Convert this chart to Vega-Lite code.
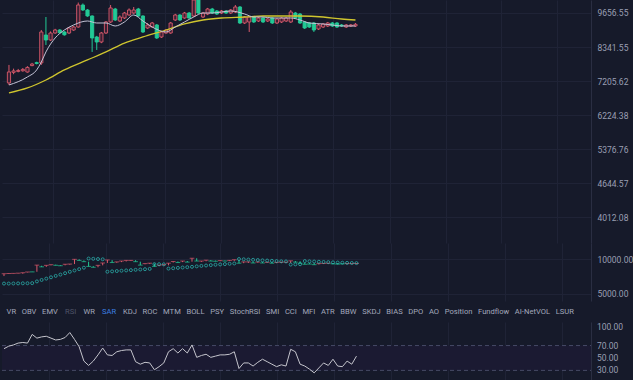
{
  "$schema": "https://vega.github.io/schema/vega-lite/v6.json",
  "background": "#161a2a",
  "padding": 0,
  "spacing": 0,
  "bounds": "flush",
  "config": {
    "view": {"stroke": null},
    "font": "Roboto",
    "axis": {"labelColor": "#9a9fb3", "labelFont": "Roboto", "labelFontSize": 8.5, "labelOverlap": false, "gridColor": "#1f2336", "domainColor": "#2a2e42", "tickColor": "#2a2e42", "title": null}
  },
  "datasets": {
    "candles": [
      {"i":0,"open":7146,"high":7722,"low":7084,"close":7492,"rsi":65,"sar":6150},
      {"i":1,"open":7480,"high":7600,"low":7420,"close":7525,"rsi":69,"sar":6150},
      {"i":2,"open":7510,"high":7590,"low":7480,"close":7540,"rsi":71,"sar":6160},
      {"i":3,"open":7530,"high":7620,"low":7500,"close":7575,"rsi":74,"sar":6170},
      {"i":4,"open":7490,"high":7680,"low":7470,"close":7640,"rsi":75,"sar":6180},
      {"i":5,"open":7700,"high":7790,"low":7680,"close":7750,"rsi":74,"sar":6190},
      {"i":6,"open":7800,"high":7830,"low":7740,"close":7770,"rsi":88,"sar":6200},
      {"i":7,"open":7790,"high":8975,"low":7722,"close":8898,"rsi":82,"sar":6420},
      {"i":8,"open":8784,"high":9492,"low":8414,"close":8597,"rsi":84,"sar":6610},
      {"i":9,"open":8597,"high":8920,"low":8560,"close":8860,"rsi":85,"sar":6790},
      {"i":10,"open":8860,"high":9020,"low":8830,"close":8975,"rsi":82,"sar":6970},
      {"i":11,"open":8975,"high":9010,"low":8840,"close":8870,"rsi":79,"sar":7170},
      {"i":12,"open":8898,"high":8930,"low":8760,"close":8790,"rsi":80,"sar":7360},
      {"i":13,"open":8860,"high":9090,"low":8820,"close":9053,"rsi":83,"sar":7570},
      {"i":14,"open":8975,"high":9130,"low":8940,"close":9092,"rsi":91,"sar":7780},
      {"i":15,"open":9092,"high":10100,"low":9060,"close":9995,"rsi":80,"sar":7990},
      {"i":16,"open":9995,"high":10060,"low":9740,"close":9782,"rsi":68,"sar":8210},
      {"i":17,"open":9782,"high":9820,"low":9500,"close":9533,"rsi":45,"sar":8450},
      {"i":18,"open":9533,"high":9560,"low":8166,"close":8672,"rsi":38,"sar":10150},
      {"i":19,"open":8709,"high":8750,"low":8236,"close":8523,"rsi":45,"sar":10100},
      {"i":20,"open":8523,"high":8900,"low":8480,"close":8860,"rsi":55,"sar":10050},
      {"i":21,"open":8860,"high":9330,"low":8820,"close":9290,"rsi":66,"sar":10000},
      {"i":22,"open":9290,"high":9995,"low":9250,"close":9867,"rsi":55,"sar":7800},
      {"i":23,"open":9824,"high":9870,"low":9330,"close":9370,"rsi":54,"sar":7850},
      {"i":24,"open":9330,"high":9560,"low":9290,"close":9492,"rsi":60,"sar":7900},
      {"i":25,"open":9451,"high":9700,"low":9410,"close":9656,"rsi":62,"sar":7950},
      {"i":26,"open":9574,"high":9850,"low":9540,"close":9782,"rsi":63,"sar":8000},
      {"i":27,"open":9656,"high":9909,"low":9620,"close":9782,"rsi":63,"sar":8050},
      {"i":28,"open":9824,"high":9870,"low":9500,"close":9533,"rsi":44,"sar":8100},
      {"i":29,"open":9533,"high":9560,"low":8860,"close":8898,"rsi":40,"sar":8150},
      {"i":30,"open":9053,"high":9250,"low":9020,"close":9171,"rsi":43,"sar":8200},
      {"i":31,"open":9092,"high":9290,"low":9060,"close":9250,"rsi":42,"sar":8250},
      {"i":32,"open":9171,"high":9210,"low":8634,"close":8672,"rsi":31,"sar":9080},
      {"i":33,"open":8709,"high":8940,"low":8670,"close":8898,"rsi":36,"sar":9060},
      {"i":34,"open":8860,"high":9010,"low":8830,"close":8975,"rsi":42,"sar":9040},
      {"i":35,"open":8860,"high":9290,"low":8830,"close":9250,"rsi":60,"sar":8300},
      {"i":36,"open":9370,"high":9620,"low":9330,"close":9574,"rsi":65,"sar":8360},
      {"i":37,"open":9574,"high":9610,"low":9330,"close":9370,"rsi":58,"sar":8420},
      {"i":38,"open":9451,"high":9700,"low":9420,"close":9656,"rsi":65,"sar":8480},
      {"i":39,"open":9656,"high":9700,"low":9420,"close":9451,"rsi":58,"sar":8540},
      {"i":40,"open":9533,"high":10300,"low":9500,"close":10212,"rsi":71,"sar":8600},
      {"i":41,"open":10212,"high":10300,"low":9620,"close":9656,"rsi":51,"sar":8680},
      {"i":42,"open":9492,"high":9700,"low":9450,"close":9656,"rsi":54,"sar":8760},
      {"i":43,"open":9615,"high":9870,"low":9570,"close":9824,"rsi":56,"sar":8830},
      {"i":44,"open":9824,"high":9870,"low":9615,"close":9656,"rsi":51,"sar":8900},
      {"i":45,"open":9740,"high":9780,"low":9574,"close":9615,"rsi":53,"sar":8960},
      {"i":46,"open":9656,"high":9782,"low":9615,"close":9740,"rsi":55,"sar":9020},
      {"i":47,"open":9740,"high":9782,"low":9615,"close":9656,"rsi":55,"sar":9080},
      {"i":48,"open":9656,"high":9824,"low":9615,"close":9782,"rsi":56,"sar":9140},
      {"i":49,"open":9698,"high":9995,"low":9656,"close":9909,"rsi":60,"sar":9200},
      {"i":50,"open":9909,"high":9952,"low":9210,"close":9250,"rsi":33,"sar":10050},
      {"i":51,"open":9250,"high":9533,"low":9210,"close":9492,"rsi":42,"sar":10000},
      {"i":52,"open":9290,"high":9533,"low":8898,"close":9492,"rsi":42,"sar":9950},
      {"i":53,"open":9492,"high":9533,"low":9250,"close":9290,"rsi":37,"sar":9900},
      {"i":54,"open":9330,"high":9492,"low":9290,"close":9451,"rsi":43,"sar":9850},
      {"i":55,"open":9451,"high":9492,"low":9250,"close":9290,"rsi":48,"sar":9800},
      {"i":56,"open":9330,"high":9451,"low":9290,"close":9410,"rsi":44,"sar":9750},
      {"i":57,"open":9451,"high":9492,"low":9210,"close":9250,"rsi":40,"sar":9700},
      {"i":58,"open":9250,"high":9451,"low":9210,"close":9410,"rsi":36,"sar":9650},
      {"i":59,"open":9290,"high":9492,"low":9250,"close":9451,"rsi":39,"sar":9600},
      {"i":60,"open":9330,"high":9492,"low":9290,"close":9451,"rsi":37,"sar":9580},
      {"i":61,"open":9290,"high":9782,"low":9250,"close":9698,"rsi":64,"sar":9000},
      {"i":62,"open":9656,"high":9700,"low":9410,"close":9451,"rsi":60,"sar":9030},
      {"i":63,"open":9615,"high":9656,"low":9210,"close":9250,"rsi":40,"sar":9060},
      {"i":64,"open":9290,"high":9330,"low":9014,"close":9053,"rsi":37,"sar":9650},
      {"i":65,"open":9250,"high":9290,"low":9053,"close":9092,"rsi":32,"sar":9600},
      {"i":66,"open":9250,"high":9290,"low":8900,"close":8975,"rsi":26,"sar":9560},
      {"i":67,"open":9014,"high":9210,"low":8975,"close":9171,"rsi":34,"sar":9520},
      {"i":68,"open":9092,"high":9250,"low":9053,"close":9210,"rsi":42,"sar":9480},
      {"i":69,"open":9131,"high":9290,"low":9092,"close":9250,"rsi":38,"sar":9440},
      {"i":70,"open":9250,"high":9290,"low":9092,"close":9131,"rsi":48,"sar":9400},
      {"i":71,"open":9250,"high":9290,"low":9053,"close":9092,"rsi":37,"sar":9370},
      {"i":72,"open":9171,"high":9210,"low":9092,"close":9131,"rsi":36,"sar":9340},
      {"i":73,"open":9092,"high":9210,"low":9053,"close":9171,"rsi":45,"sar":9310},
      {"i":74,"open":9131,"high":9210,"low":9092,"close":9171,"rsi":40,"sar":9290},
      {"i":75,"open":9131,"high":9250,"low":9092,"close":9196.94,"rsi":53,"sar":9270}
    ],
    "maw": [
      {"i":0,"ma":7084},{"i":4,"ma":7333},{"i":6,"ma":7557},{"i":7,"ma":7820},{"i":8,"ma":8166},
      {"i":10,"ma":8672},{"i":12,"ma":8975},{"i":14,"ma":9171},{"i":17,"ma":9330},{"i":19,"ma":9250},
      {"i":21,"ma":9250},{"i":23,"ma":9131},{"i":25,"ma":9290},{"i":27,"ma":9574},{"i":29,"ma":9330},
      {"i":31,"ma":9092},{"i":34,"ma":8898},{"i":36,"ma":9092},{"i":38,"ma":9290},{"i":40,"ma":9492},
      {"i":42,"ma":9656},{"i":44,"ma":9656},{"i":46,"ma":9698},{"i":48,"ma":9740},{"i":51,"ma":9615},
      {"i":53,"ma":9492},{"i":55,"ma":9492},{"i":57,"ma":9451},{"i":59,"ma":9451},{"i":61,"ma":9451},
      {"i":63,"ma":9370},{"i":65,"ma":9250},{"i":68,"ma":9210},{"i":70,"ma":9171},{"i":72,"ma":9131},
      {"i":75,"ma":9131}
    ],
    "may": [
      {"i":0,"ma":6844},{"i":4,"ma":6993},{"i":8,"ma":7238},{"i":12,"ma":7557},{"i":17,"ma":7890},
      {"i":21,"ma":8166},{"i":25,"ma":8485},{"i":29,"ma":8709},{"i":34,"ma":8975},{"i":38,"ma":9210},
      {"i":42,"ma":9370},{"i":46,"ma":9451},{"i":51,"ma":9492},{"i":55,"ma":9533},{"i":59,"ma":9533},
      {"i":63,"ma":9533},{"i":68,"ma":9492},{"i":72,"ma":9410},{"i":75,"ma":9370}
    ],
    "last": [{"label": "- 9196.94"}],
    "levels": [{"level": 70}, {"level": 30}],
    "band": [{"lo": 30, "hi": 70}],
    "rsiticks": [{"v": 100}, {"v": 70}, {"v": 50}, {"v": 30}]
  },
  "vconcat": [
    {
      "width": 589,
      "height": 243,
      "encoding": {
        "x": {"field": "i", "type": "quantitative", "scale": {"domain": [-0.4255, 124.9], "nice": false, "zero": false},
              "axis": {"values": [9.6, 21.7, 33.8, 46.0, 58.1, 70.2, 82.4, 94.5, 106.6, 118.7], "labels": false, "ticks": false, "domain": false, "grid": true}}
      },
      "layer": [
        {
          "data": {"name": "candles"},
          "mark": {"type": "rule", "clip": true, "strokeWidth": 1},
          "encoding": {
            "y": {"field": "low", "type": "quantitative", "scale": {"type": "log", "domain": [3588, 10212], "nice": false},
                  "axis": {"orient": "right", "values": [9656.55, 8341.55, 7205.62, 6224.38, 5376.76, 4644.57, 4012.08], "format": ".2f", "grid": true, "ticks": false, "labelPadding": 6, "domain": true, "labelOverlap": false}},
            "y2": {"field": "high"},
            "color": {"condition": {"test": "datum.close >= datum.open", "value": "#d9596b"}, "value": "#22c996"}
          }
        },
        {
          "data": {"name": "candles"},
          "mark": {"type": "bar", "clip": true, "width": 3.2, "strokeWidth": 0.9},
          "encoding": {
            "y": {"field": "open", "type": "quantitative"},
            "y2": {"field": "close"},
            "fill": {"condition": {"test": "datum.close >= datum.open", "value": "#3a2034"}, "value": "#22c996"},
            "stroke": {"condition": {"test": "datum.close >= datum.open", "value": "#d9596b"}, "value": "#22c996"}
          }
        },
        {
          "data": {"name": "may"},
          "mark": {"type": "line", "color": "#cfc52e", "strokeWidth": 1.3, "interpolate": "monotone", "clip": true},
          "encoding": {"y": {"field": "ma", "type": "quantitative"}}
        },
        {
          "data": {"name": "maw"},
          "mark": {"type": "line", "color": "#c3c3d6", "strokeWidth": 1, "interpolate": "monotone", "clip": true},
          "encoding": {"y": {"field": "ma", "type": "quantitative"}}
        },
        {
          "data": {"name": "last"},
          "mark": {"type": "rule", "color": "#2a2e42", "strokeWidth": 1},
          "encoding": {"x": {"datum": -0.4255}, "x2": {"datum": 135.7}, "y": {"datum": 3600}}
        },
        {
          "data": {"name": "last"},
          "mark": {"type": "rect", "color": "#d9534f"},
          "encoding": {"x": {"datum": 125.11}, "x2": {"datum": 134.89}, "y": {"datum": 8943}, "y2": {"datum": 9458}}
        },
        {
          "data": {"name": "last"},
          "mark": {"type": "text", "align": "left", "baseline": "middle", "color": "#ffffff", "fontSize": 8.5, "font": "Roboto"},
          "encoding": {"x": {"datum": 125.3}, "y": {"datum": 9196.94}, "text": {"field": "label"}}
        },
        {
          "data": {"name": "last"},
          "mark": {"type": "rect", "color": "#353b52", "cornerRadius": 1},
          "encoding": {"x": {"datum": 134.5}, "x2": {"datum": 135.8}, "y": {"datum": 4606}, "y2": {"datum": 4956}}
        }
      ]
    },
    {
      "width": 589,
      "height": 58,
      "data": {"name": "candles"},
      "encoding": {
        "x": {"field": "i", "type": "quantitative", "scale": {"domain": [-0.4255, 124.9], "nice": false, "zero": false},
              "axis": {"values": [9.6, 21.7, 33.8, 46.0, 58.1, 70.2, 82.4, 94.5, 106.6, 118.7], "labels": false, "ticks": false, "domain": false, "grid": true}}
      },
      "layer": [
        {
          "mark": {"type": "rule", "strokeWidth": 1},
          "encoding": {
            "y": {"field": "open", "type": "quantitative", "scale": {"type": "log", "domain": [4336, 13862], "nice": false},
                  "axis": {"orient": "right", "values": [10000, 5000], "format": ".2f", "grid": true, "ticks": false, "labelPadding": 6, "domain": true, "labelOverlap": false}},
            "y2": {"field": "close"},
            "color": {"condition": {"test": "datum.close >= datum.open", "value": "#d9596b"}, "value": "#22c996"}
          }
        },
        {
          "mark": {"type": "tick", "orient": "horizontal", "size": 4.7, "thickness": 1},
          "encoding": {
            "y": {"field": "close", "type": "quantitative"},
            "color": {"condition": {"test": "datum.close >= datum.open", "value": "#d9596b"}, "value": "#22c996"}
          }
        },
        {
          "mark": {"type": "point", "shape": "circle", "filled": false, "size": 9, "strokeWidth": 1, "color": "#2ec7c0"},
          "encoding": {"y": {"field": "sar", "type": "quantitative"}}
        }
      ]
    },
    {
      "width": 589,
      "height": 21,
      "data": {"name": "last"},
      "layer": [
        {
          "mark": {"type": "text", "align": "left", "baseline": "middle", "fontSize": 7.6, "font": "Roboto", "color": "#a3a8bb"},
          "encoding": {"x": {"datum": 0.55, "type": "quantitative", "scale": {"domain": [-0.4255, 124.9], "nice": false, "zero": false}, "axis": null}, "text": {"value": "VR\u00a0\u00a0\u00a0OBV\u00a0\u00a0\u00a0EMV"}}
        },
        {
          "mark": {"type": "text", "align": "left", "baseline": "middle", "fontSize": 7.6, "font": "Roboto", "color": "#4f5468"},
          "encoding": {"x": {"datum": 13.0, "type": "quantitative"}, "text": {"value": "RSI"}}
        },
        {
          "mark": {"type": "text", "align": "left", "baseline": "middle", "fontSize": 7.6, "font": "Roboto", "color": "#a3a8bb"},
          "encoding": {"x": {"datum": 16.9, "type": "quantitative"}, "text": {"value": "WR"}}
        },
        {
          "mark": {"type": "text", "align": "left", "baseline": "middle", "fontSize": 7.6, "font": "Roboto", "color": "#3b7ee0"},
          "encoding": {"x": {"datum": 20.85, "type": "quantitative"}, "text": {"value": "SAR"}}
        },
        {
          "mark": {"type": "text", "align": "left", "baseline": "middle", "fontSize": 7.6, "font": "Roboto", "color": "#a3a8bb"},
          "encoding": {"x": {"datum": 25.32, "type": "quantitative"}, "text": {"value": "KDJ\u00a0\u00a0\u00a0ROC\u00a0\u00a0\u00a0MTM\u00a0\u00a0\u00a0BOLL\u00a0\u00a0\u00a0PSY\u00a0\u00a0\u00a0StochRSI\u00a0\u00a0\u00a0SMI\u00a0\u00a0\u00a0CCI\u00a0\u00a0\u00a0MFI\u00a0\u00a0\u00a0ATR\u00a0\u00a0\u00a0BBW\u00a0\u00a0\u00a0SKDJ\u00a0\u00a0\u00a0BIAS\u00a0\u00a0\u00a0DPO\u00a0\u00a0\u00a0AO\u00a0\u00a0\u00a0Position\u00a0\u00a0\u00a0Fundflow\u00a0\u00a0\u00a0AI-NetVOL\u00a0\u00a0\u00a0LSUR"}}
        }
      ]
    },
    {
      "width": 589,
      "height": 58,
      "layer": [
        {
          "data": {"name": "band"},
          "mark": {"type": "rect", "color": "#1b1a32"},
          "encoding": {
            "x": {"datum": -0.4255, "type": "quantitative", "scale": {"domain": [-0.4255, 124.9], "nice": false, "zero": false},
                  "axis": {"values": [9.6, 21.7, 33.8, 46.0, 58.1, 70.2, 82.4, 94.5, 106.6, 118.7], "labels": false, "ticks": false, "domain": false, "grid": true}},
            "x2": {"datum": 124.9},
            "y": {"field": "lo", "type": "quantitative", "scale": {"domain": [14.5, 108], "nice": false, "zero": false},
                  "axis": {"orient": "right", "labels": false, "grid": false, "ticks": false, "domain": true}},
            "y2": {"field": "hi"}
          }
        },
        {
          "data": {"name": "levels"},
          "mark": {"type": "rule", "color": "#464a66", "strokeDash": [4, 3], "strokeWidth": 1},
          "encoding": {"x": {"datum": -0.4255}, "x2": {"datum": 124.9}, "y": {"field": "level", "type": "quantitative"}}
        },
        {
          "data": {"name": "candles"},
          "mark": {"type": "line", "color": "#c4c4cc", "strokeWidth": 1},
          "encoding": {"x": {"field": "i", "type": "quantitative"}, "y": {"field": "rsi", "type": "quantitative"}}
        },
        {
          "data": {"name": "rsiticks"},
          "mark": {"type": "text", "align": "left", "baseline": "middle", "color": "#9a9fb3", "fontSize": 8.5, "font": "Roboto"},
          "encoding": {"x": {"datum": 126.17}, "y": {"field": "v", "type": "quantitative"}, "text": {"field": "v", "type": "quantitative", "format": ".2f"}}
        }
      ]
    }
  ]
}
